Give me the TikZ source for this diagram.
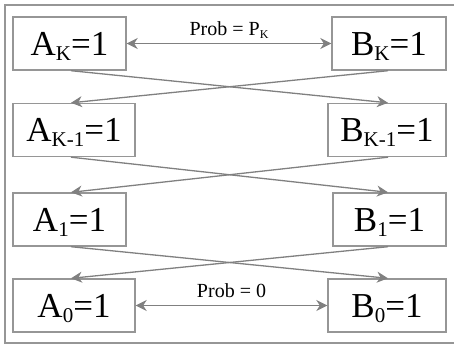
\documentclass[tikz,border=0pt]{standalone}
\usepackage{fontspec}
\setmainfont{Liberation Serif}
\newfontfamily\labelserif{Liberation Serif}
\usetikzlibrary{arrows.meta}
\definecolor{edgegray}{RGB}{128,128,128}
\definecolor{framegray}{RGB}{150,150,150}
% lowered subscript that does not change the line's height or depth
\newcommand{\lowsub}[1]{\raisebox{-5pt}[0pt][0pt]{\fontsize{21}{21}\selectfont #1}}
\newcommand{\smallsub}[1]{\raisebox{-3pt}[0pt][0pt]{\fontsize{12}{12}\selectfont #1}}
\tikzset{
  statebox/.style={draw=framegray, line width=1.4pt, inner sep=0pt,
    minimum height=53pt, font=\labelserif\fontsize{35}{35}\selectfont},
  link/.style={draw=edgegray, line width=1.3pt,
    -{Stealth[length=11pt,width=11pt,inset=3.5pt]}},
  biglink/.style={draw=edgegray, line width=1.3pt,
    {Stealth[length=11pt,width=11pt,inset=3.5pt]}-{Stealth[length=11pt,width=11pt,inset=3.5pt]}},
  problabel/.style={font=\labelserif\fontsize{20}{20}\selectfont, anchor=base}
}
\begin{document}
\begin{tikzpicture}[x=1pt,y=-1pt]
\useasboundingbox (0,0) rectangle (454,345);
% outer frame
\draw[framegray, line width=1.4pt] (460,5) -- (5,5) -- (5,343) -- (460,343);

% states
\node[statebox, minimum width=113pt] (AK)  at (69.5,43.5)  {A\lowsub{K}=1};
\node[statebox, minimum width=114pt] (BK)  at (389,43.5)   {B\lowsub{K}=1};
\node[statebox, minimum width=122pt] (AK1) at (74,130)     {A\lowsub{K-1}=1};
\node[statebox, minimum width=118pt] (BK1) at (387,130)    {B\lowsub{K-1}=1};
\node[statebox, minimum width=113pt] (A1)  at (69.5,219.5) {A\lowsub{1}=1};
\node[statebox, minimum width=113pt] (B1)  at (389.5,219.5){B\lowsub{1}=1};
\node[statebox, minimum width=122pt] (A0)  at (74,305.5)   {A\lowsub{0}=1};
\node[statebox, minimum width=118pt] (B0)  at (387,305.5)  {B\lowsub{0}=1};

% columns where the crossing links meet the boxes
\coordinate (xa) at (71,0);
\coordinate (xb) at (388,0);

% horizontal links
\draw[biglink] (AK.east) -- node[problabel, above=4pt] {Prob = P\smallsub{K}} (BK.west);
\draw[biglink] (A0.east) -- node[problabel, above=4pt] {Prob = 0} (B0.west);

% crossing links between levels
\draw[link] (xa |- AK.south)  -- (xb |- BK1.north);
\draw[link] (xb |- BK.south)  -- (xa |- AK1.north);
\draw[link] (xa |- AK1.south) -- (xb |- B1.north);
\draw[link] (xb |- BK1.south) -- (xa |- A1.north);
\draw[link] (xa |- A1.south)  -- (xb |- B0.north);
\draw[link] (xb |- B1.south)  -- (xa |- A0.north);
\end{tikzpicture}
\end{document}
